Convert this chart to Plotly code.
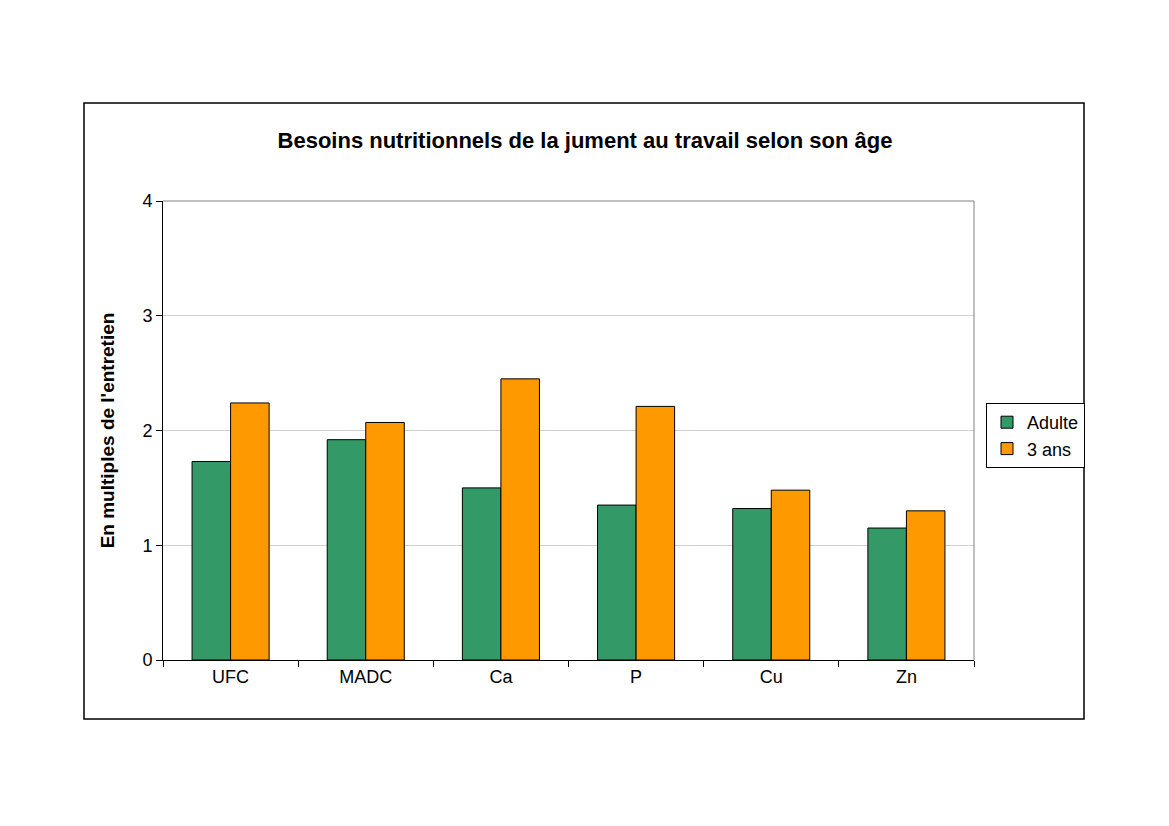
import plotly.graph_objects as go

categories = ["UFC", "MADC", "Ca", "P", "Cu", "Zn"]
adulte = [1.73, 1.92, 1.50, 1.35, 1.32, 1.15]
trois_ans = [2.24, 2.07, 2.45, 2.21, 1.48, 1.30]

fig = go.Figure()
fig.add_bar(x=categories, y=adulte, name="Adulte", marker=dict(color="#339966", line=dict(color="black", width=1)))
fig.add_bar(x=categories, y=trois_ans, name="3 ans", marker=dict(color="#FF9900", line=dict(color="black", width=1)))

W, H = 811, 459
fig.update_layout(
    width=1169, height=826, autosize=False,
    margin=dict(l=155, r=203, t=193, b=174),
    paper_bgcolor="white", plot_bgcolor="white",
    font=dict(family="Liberation Sans, Arial", size=18, color="black"),
    barmode="group", bargap=0.43, bargroupgap=0,
    title=dict(text="<b>Besoins nutritionnels de la jument au travail selon son âge</b>",
               x=577/1169, xanchor="center", y=1-132/826, yanchor="middle",
               font=dict(size=22)),
    legend=dict(x=(986-163)/W, y=(660-403)/H, xanchor="left", yanchor="top",
                bordercolor="black", borderwidth=1, font=dict(size=18),
                tracegroupgap=0, itemwidth=30),
    xaxis=dict(showline=True, linecolor="black", ticks="outside", tickson="boundaries",
               ticklen=6, tickcolor="black", mirror=False),
    yaxis=dict(range=[0, 4], dtick=1, showline=True, linecolor="black", ticks="outside",
               ticklen=6, tickcolor="black", gridcolor="#d0d0d0",
               title=dict(text="<b>En multiples de l'entretien</b>", standoff=22, font=dict(size=19))),
    shapes=[
        dict(type="line", xref="paper", yref="paper", x0=1, x1=1, y0=0, y1=1,
             line=dict(color="#808080", width=1)),
        dict(type="line", xref="paper", yref="paper", x0=0, x1=1, y0=1, y1=1,
             line=dict(color="#808080", width=1)),
        dict(type="rect", xref="paper", yref="paper",
             x0=(84-163)/W, x1=(1084-163)/W, y0=(660-719)/H, y1=(660-103)/H,
             line=dict(color="black", width=1.5)),
    ],
)
fig.write_html("out.html")
